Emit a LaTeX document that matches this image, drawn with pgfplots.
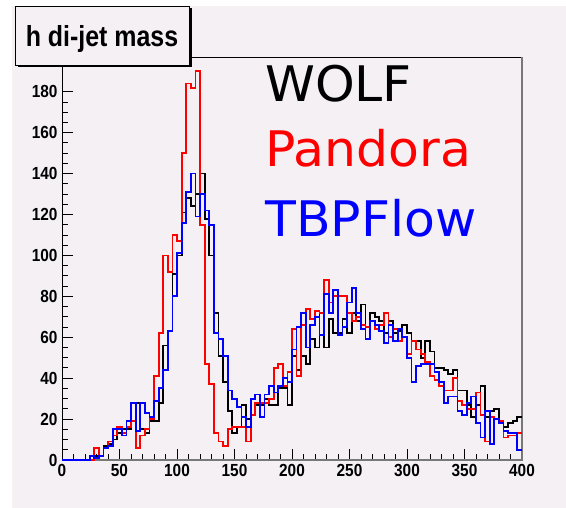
\documentclass[border=0pt]{standalone}
\usepackage{pgfplots}
\pgfplotsset{compat=1.18}
\usepackage{pgfplotstable}
\usepackage{fontspec}
\setmainfont{Liberation Sans}
\newfontfamily\rootbold{Liberation Sans Bold}[FakeStretch=0.88]
\newfontfamily\titlefont{Liberation Sans Bold}[FakeStretch=0.86]
\newfontfamily\legfont{DejaVu Sans}[FakeStretch=1.03]
\newcommand\tickfont{\rootbold\fontsize{17.5}{19}\selectfont}

\definecolor{bgpink}{RGB}{244,240,244}
\definecolor{framegray}{RGB}{120,120,120}

% 100 bins of width 4 GeV, left edges; last row repeats the last bin
\pgfplotstableread{
x   wolf pandora tbp
0   0    0    0
4   0    0    0
8   0    0    0
12  0    0    0
16  0    0    0
20  0    0    0
24  0    0    2
28  2    6    1
32  2    2    2
36  7    6    6
40  8    9    7
44  10   12   15
48  13   16   15
52  15   13   12
56  15   16   19
60  19   19   28
64  28   6    14
68  15   12   28
72  13   15   23
76  19   20   21
80  19   41   29
84  28   62   35
88  56   100  44
92  63   92   63
96  91   110  80
100 100  107  101
104 121  150  116
108 128  184  131
112 124  182  140
116 130  190  119
120 140  115  130
124 118  47   122
128 100  37   115
132 72   13   62
136 51   9    59
140 38   7    51
144 24   15   34
148 13   16   30
152 16   16   26
156 27   16   21
160 20   9    16
164 22   22   30
168 27   28   32
172 27   28   21
176 30   28   32
180 27   30   36
184 27   45   33
188 35   47   36
192 35   36   40
196 27   43   38
200 51   64   54
204 44   41   65
208 51   66   72
212 47   74   55
216 59   69   66
220 55   73   70
224 72   72   61
228 55   88   81
232 69   77   72
236 62   80   83
240 62   80   61
244 69   80   65
248 62   72   77
252 72   68   84
256 68   70   72
260 76   66   64
264 65   65   59
268 72   68   68
272 70   64   66
276 68   66   63
280 62   72   57
284 68   60   66
288 62   64   58
292 63   58   64
296 66   60   60
300 62   52   50
304 58   58   38
308 58   54   46
312 50   52   47
316 58   48   47
320 53   41   47
324 45   39   43
328 45   36   38
332 44   34   28
336 42   34   31
340 44   40   31
344 34   29   24
348 34   27   22
352 27   25   28
356 21   25   31
360 27   33   18
364 36   22   11
368 21   9    24
372 24   21   8
376 25   20   20
380 18   19   18
384 16   11   14
388 18   12   13
392 19   12   13
396 21   13   5
400 21   13   5
}\hist

\begin{document}
\begin{tikzpicture}
\useasboundingbox (0,0) rectangle (566pt,508pt);
\fill[white] (0,0) rectangle (566pt,508pt);
\fill[bgpink] (12pt,0) rectangle (566pt,502pt);

\begin{axis}[
    at={(62pt,48pt)}, anchor=south west,
    scale only axis, width=460pt, height=403pt,
    xmin=0, xmax=400, ymin=0, ymax=197,
    xtick={0,50,...,400}, ytick={0,20,...,180},
    minor x tick num=4, minor y tick num=3,
    xtick pos=left, ytick pos=left,
    tick align=inside,
    major tick length=11pt, minor tick length=5.5pt,
    tick style={black, line width=0.9pt},
    axis line style={black, line width=0.9pt},
    axis background/.style={fill=bgpink},
    /pgf/number format/assume math mode=true,
    tick label style={font=\tickfont},
    xticklabel style={yshift=-1pt},
    yticklabel style={xshift=-1pt},
    scaled ticks=false,
    clip=false,
    every axis plot/.append style={const plot, line width=1.8pt, line join=miter, no marks},
]
\draw[framegray, line width=1.6pt] (rel axis cs:0,0) -- (rel axis cs:1,0) -- (rel axis cs:1,1);
\addplot[black] table[x=x, y=wolf] {\hist};
\addplot[red] table[x=x, y=pandora] {\hist};
\addplot[blue] table[x=x, y=tbp] {\hist};
\end{axis}

% title box with ROOT style shadow
\fill[black] (17.5pt,440.5pt) rectangle (191.5pt,499.5pt);
\filldraw[fill=bgpink, draw=black, line width=0.8pt] (15pt,443pt) rectangle (189pt,502pt);
\node[anchor=base, inner sep=0pt, font=\titlefont\fontsize{29}{32}\selectfont] at (102pt,461pt) {h di-jet mass};

% legend text
\node[anchor=base west, inner sep=0pt, font=\legfont\fontsize{49}{54}\selectfont] at (265pt,406pt) {WOLF};
\node[anchor=base west, inner sep=0pt, text=red, font=\legfont\fontsize{49}{54}\selectfont] at (265pt,341pt) {Pandora};
\node[anchor=base west, inner sep=0pt, text=blue, font=\legfont\fontsize{49}{54}\selectfont] at (265pt,271pt) {TBPFlow};
\end{tikzpicture}
\end{document}
